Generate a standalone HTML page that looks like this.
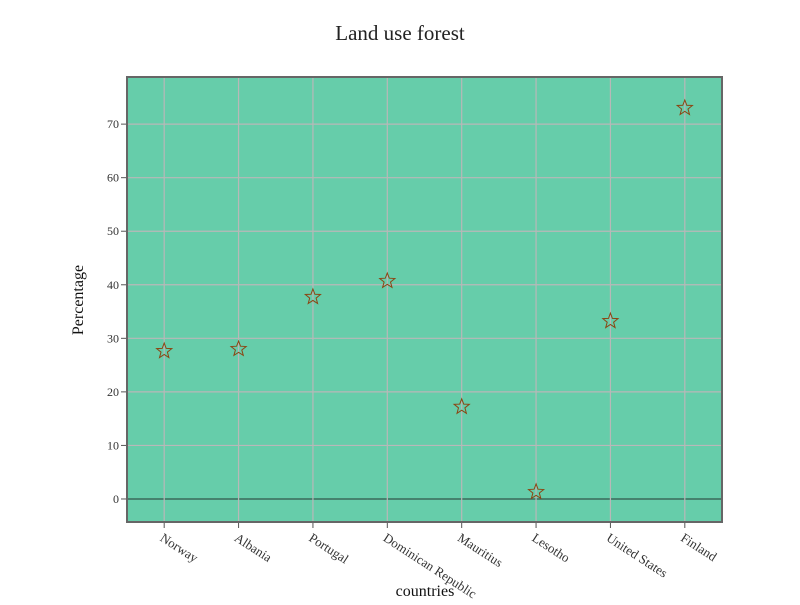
<!DOCTYPE html>
<html><head><meta charset="utf-8"><style>
body{margin:0;background:#fff;}
svg text{font-family:"Liberation Serif",serif;}
</style></head><body>
<svg id="chart" width="800" height="600">
<text x="400" y="40" text-anchor="middle" font-size="21" fill="#222">Land use forest</text>
<rect x="127" y="77" width="595" height="445" fill="#66cdaa"/>
<g id="grid"></g><g id="axes"></g><g id="marks"></g>
<rect x="127" y="77" width="595" height="445" fill="none" stroke="#666" stroke-width="2"/>
<text x="425" y="596" text-anchor="middle" font-size="16" fill="#111">countries</text>
<text transform="translate(83,300) rotate(-90)" text-anchor="middle" font-size="16" fill="#111">Percentage</text>
</svg>
<script>
const categories=["Norway","Albania","Portugal","Dominican Republic","Mauritius","Lesotho","United States","Finland"];
const values=[27.8,28.2,37.9,40.9,17.4,1.5,33.4,73.2];
const yTicks=[0,10,20,30,40,50,60,70];
const NS="http://www.w3.org/2000/svg";
const L=127,R=722,T=77,B=522,ymin=-4.3,ymax=78.8;
const step=(R-L)/categories.length;
function x(i){return L+step*(i+0.5);}
function y(v){return B-(v-ymin)/(ymax-ymin)*(B-T);}
function mk(tag,a,p){const e=document.createElementNS(NS,tag);for(const k in a)e.setAttribute(k,a[k]);p.appendChild(e);return e;}
const grid=document.getElementById('grid'),axes=document.getElementById('axes'),marks=document.getElementById('marks');
yTicks.forEach(t=>{
 const g=mk('line',{x1:L,x2:R,y1:y(t),y2:y(t),stroke:t===0?'#3a6a5a':'#b8b8b8','stroke-width':t===0?1.5:1.2},grid);
 
 
 mk('line',{x1:L-6,x2:L,y1:y(t),y2:y(t),stroke:'#555'},axes);
 const tx=mk('text',{x:L-8,y:y(t)+4,'text-anchor':'end','font-size':12,fill:'#333'},axes);
 tx.textContent=t;
 
 
});
categories.forEach((c,i)=>{
 const g=mk('line',{x1:x(i),x2:x(i),y1:T,y2:B,stroke:'#b8b8b8','stroke-width':1.2},grid);
 
 
 mk('line',{x1:x(i),x2:x(i),y1:B,y2:B+6,stroke:'#555'},axes);
 const tx=mk('text',{transform:`translate(${x(i)-5},${B+18}) rotate(33)`,'font-size':13,fill:'#333'},axes);
 tx.textContent=c;
 
 
});
function star(cx,cy,r){let p=[];for(let k=0;k<10;k++){const a=-Math.PI/2+k*Math.PI/5,rr=k%2?r*0.42:r;p.push((cx+rr*Math.cos(a)).toFixed(1)+','+(cy+rr*Math.sin(a)).toFixed(1));}return p.join(' ');}
values.forEach((v,i)=>{
 const s=mk('polygon',{points:star(x(i),y(v)+1,8),fill:'none',stroke:'#8b4513','stroke-width':1},marks);
 
 
});
</script>
</body></html>
